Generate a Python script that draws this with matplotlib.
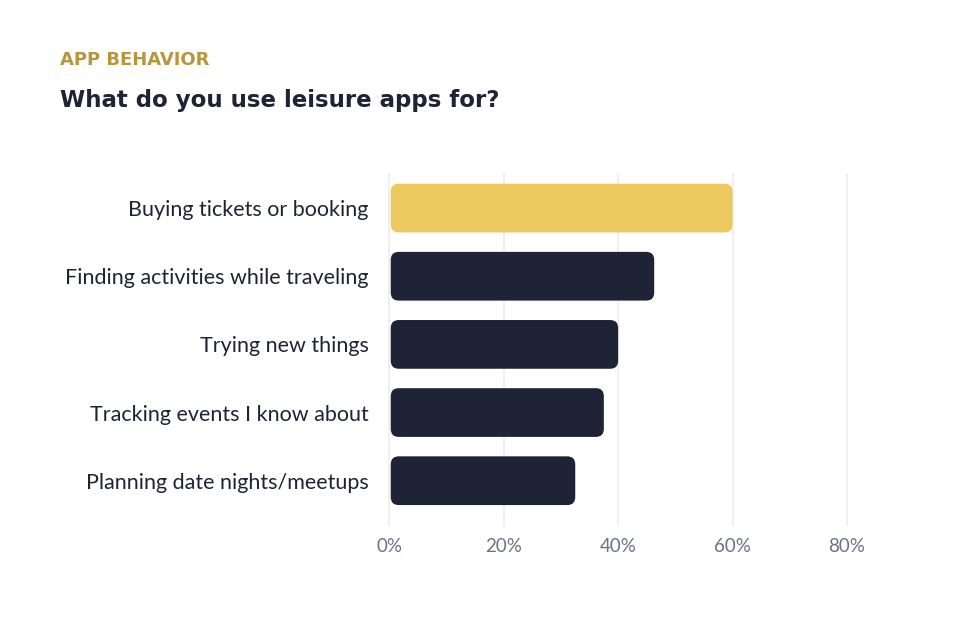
import matplotlib
matplotlib.use('Agg')
import matplotlib.pyplot as plt
from matplotlib.patches import FancyBboxPatch

categories = ['Buying tickets or booking',
              'Finding activities while traveling',
              'Trying new things',
              'Tracking events I know about',
              'Planning date nights/meetups']
shares = [60, 46.3, 40, 37.5, 32.5]
xticks = [0, 20, 40, 60, 80]
xtick_labels = ['0%', '20%', '40%', '60%', '80%']

kicker = 'APP BEHAVIOR'
title = 'What do you use leisure apps for?'

DARK = '#1e2335'
GOLD = '#edc85f'
W, H = 970, 624

fig = plt.figure(figsize=(W / 100, H / 100), dpi=100)
fig.patch.set_facecolor('white')

# axes placed in pixel terms
ax_l, ax_r, ax_t, ax_b = 389.3, 847.0, 174.0, 525.0
ax = fig.add_axes([ax_l / W, 1 - ax_b / H, (ax_r - ax_l) / W, (ax_b - ax_t) / H])
ax.set_xlim(0, 80)
ax.set_ylim(4.65, -0.5)

# grid
for t in xticks:
    ax.axvline(t, color='#ececec', lw=1.2, zorder=0, clip_on=False)

bar_h = 0.715
px_x = (ax_r - ax_l) / 80.0
px_y = (ax_b - ax_t) / 5.15
rad_px = 8.0
r = rad_px / px_x
aspect = (rad_px / px_y) / r

for i, (cat, v) in enumerate(zip(categories, shares)):
    col = GOLD if i == 0 else DARK
    p = FancyBboxPatch((0.25, i - bar_h / 2), v - 0.25, bar_h,
                       boxstyle='round,pad=0,rounding_size=%f' % r,
                       mutation_aspect=aspect, fc=col, ec='none', zorder=2)
    ax.add_patch(p)

ax.set_yticks(range(len(categories)))
ax.set_yticklabels(categories, fontsize=15.5, color=DARK, family='Lato')
ax.tick_params(axis='y', length=0, pad=15)
ax.set_xticks(xticks)
ax.set_xticklabels(xtick_labels, fontsize=13.5, color='#6b7289', family='Lato')
ax.tick_params(axis='x', length=0, pad=9)
for s in ax.spines.values():
    s.set_visible(False)

fig.text(60 / W, 1 - 60 / H, kicker, fontsize=13, fontweight='bold', color='#b8963e',
         family='DejaVu Sans', va='center', ha='left')
fig.text(60 / W, 1 - 101 / H, title, fontsize=16.5, fontweight='bold', color=DARK,
         family='DejaVu Sans', va='center', ha='left')

fig.savefig('out.png', dpi=100, facecolor='white')
